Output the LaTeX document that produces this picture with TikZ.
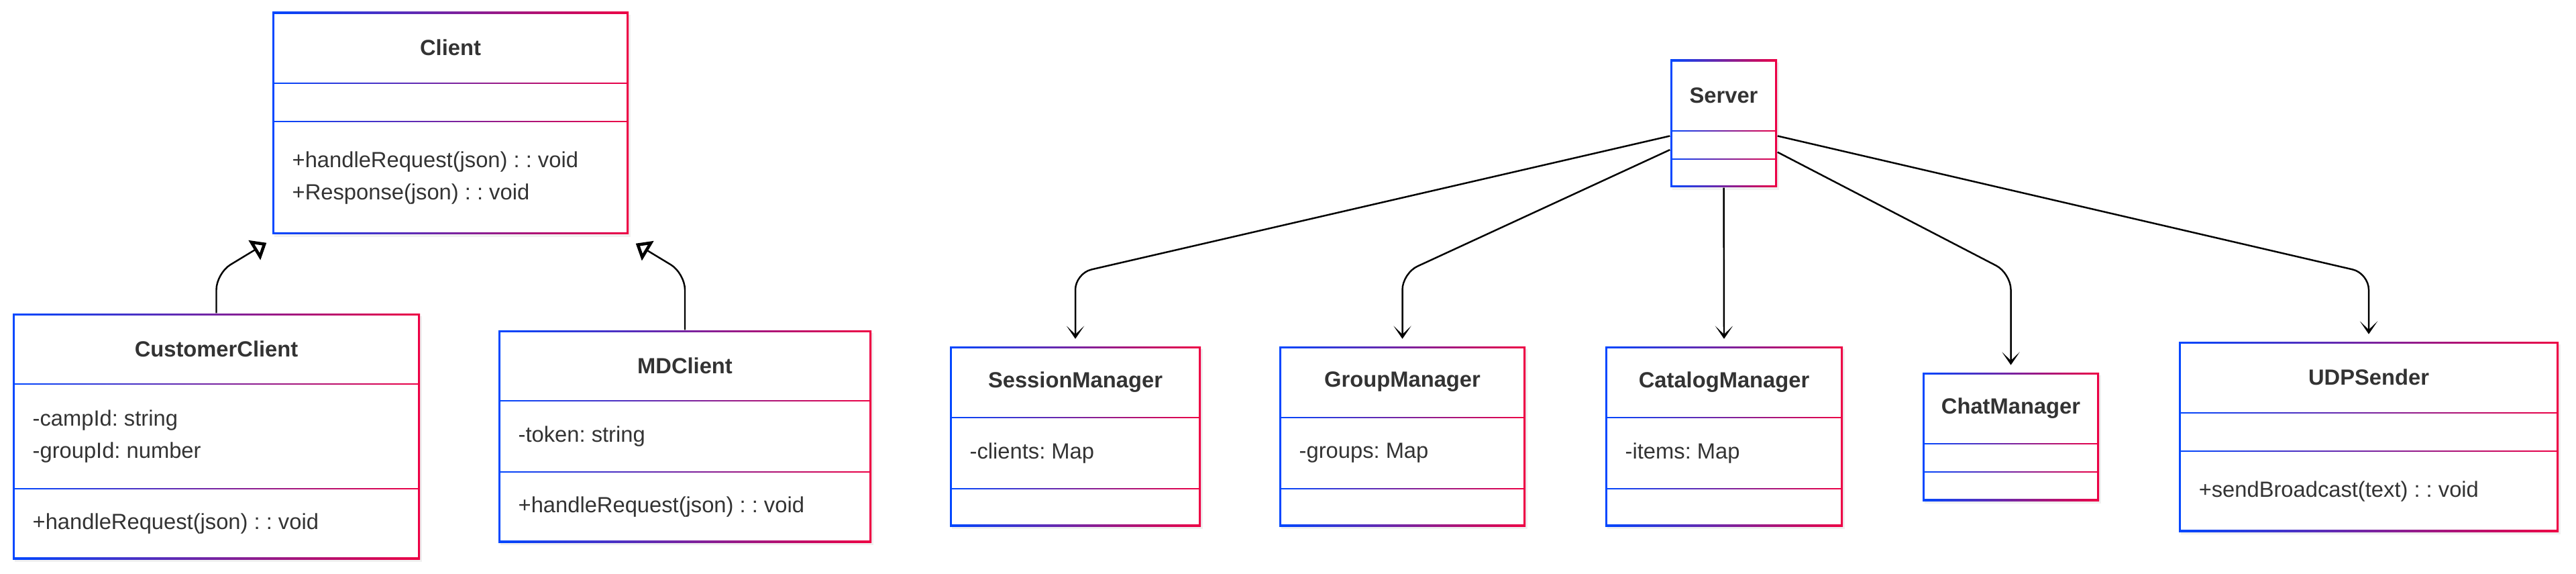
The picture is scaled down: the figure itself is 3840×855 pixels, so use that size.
\documentclass[tikz,border=0pt]{standalone}
\usepackage{fontspec}
\setmainfont{Liberation Sans}
\usetikzlibrary{arrows.meta,fit,shadows}
\definecolor{umlblue}{HTML}{0047FF}
\definecolor{umlred}{HTML}{EE0044}
\definecolor{umltext}{HTML}{333333}
\newcommand{\umlfont}{\fontsize{9.3}{13.8}\selectfont}
\frenchspacing

% box: name, x1, y1, x2, y2, first line, second line
\newcommand{\umlbox}[7]{%
  \shade[boxshade] (#2,#3) rectangle (#4,#5);
  \fill[white] ({#2+2.7},{#3+2.7}) rectangle ({#4-2.7},{#6-1.4});
  \fill[white] ({#2+2.7},{#6+1.4}) rectangle ({#4-2.7},{#7-1.4});
  \fill[white] ({#2+2.7},{#7+1.4}) rectangle ({#4-2.7},{#5-2.7});
  \node[fit={(#2,#3) (#4,#5)},inner sep=0pt] (#1) {};
  \coordinate (#1-t) at ({(#2+#4)/2},{(#3+#6)/2});
  \coordinate (#1-a) at ({#2+29},{(#6+#7)/2});
  \coordinate (#1-m) at ({#2+29},{(#7+#5)/2});
}

\begin{document}
\begin{tikzpicture}[x=0.01cm,y=-0.01cm,
    boxshade/.style={left color=umlblue,right color=umlred,
      drop shadow={shadow xshift=0.8pt,shadow yshift=-1pt,opacity=0.12}},
    title/.style={font=\umlfont\bfseries,text=umltext,inner sep=0pt},
    member/.style={font=\umlfont,text=umltext,anchor=west,align=left,inner sep=0pt},
    assoc/.style={line width=0.7pt,rounded corners=7pt,shorten >=3pt,
      -{Stealth[length=5.5pt,width=7.5pt,inset=3.6pt]}},
    inherit/.style={line width=0.7pt,rounded corners=7pt,
      -{Triangle[open,length=6pt,width=9.5pt,line width=1.3pt]}}]
  \useasboundingbox (0,0) rectangle (3840,855);
  \coordinate (bend) at (0,407);

  \umlbox{client}{406}{18}{937}{349}{124}{181}
  \umlbox{customer}{19}{467}{626}{833}{572}{728}
  \umlbox{mdclient}{743}{492}{1299}{808}{597}{703}
  \umlbox{server}{2490}{89}{2649}{279}{195}{237}
  \umlbox{session}{1416}{516}{1790}{784}{622}{728}
  \umlbox{group}{1907}{516}{2274}{784}{622}{728}
  \umlbox{catalog}{2393}{516}{2747}{784}{622}{728}
  \umlbox{chat}{2866}{555}{3129}{746}{661}{703}
  \umlbox{udp}{3248}{509}{3814}{792}{615}{672}

  \node[title] (client-name) at (client-t) {Client};
  \node[member] (client-ops) at (client-m) {+handleRequest(json) : : void\\+Response(json) : : void};
  \node[title] (customer-name) at (customer-t) {CustomerClient};
  \node[member] (customer-attr) at (customer-a) {-campId: string\\-groupId: number};
  \node[member] (customer-ops) at (customer-m) {+handleRequest(json) : : void};
  \node[title] (mdclient-name) at (mdclient-t) {MDClient};
  \node[member] (mdclient-attr) at (mdclient-a) {-token: string};
  \node[member] (mdclient-ops) at (mdclient-m) {+handleRequest(json) : : void};
  \node[title] (server-name) at (server-t) {Server};
  \node[title] (session-name) at (session-t) {SessionManager};
  \node[member] (session-attr) at (session-a) {-clients: Map};
  \node[title] (group-name) at (group-t) {GroupManager};
  \node[member] (group-attr) at (group-a) {-groups: Map};
  \node[title] (catalog-name) at (catalog-t) {CatalogManager};
  \node[member] (catalog-attr) at (catalog-a) {-items: Map};
  \node[title] (chat-name) at (chat-t) {ChatManager};
  \node[title] (udp-name) at (udp-t) {UDPSender};
  \node[member] (udp-ops) at (udp-m) {+sendBroadcast(text) : : void};

  \draw[inherit] (customer.north) -- (customer.north |- bend) -- ([shift={(-8,12)}]client.south west);
  \draw[inherit] (mdclient.north) -- (mdclient.north |- bend) -- ([shift={(10,13)}]client.south east);

  \foreach \a/\t in {193/session,206/group,332/chat,347/udp} {
    \draw[assoc] (server.\a) -- (\t.north |- bend) -- (\t.north);
  }
  \draw[assoc] (server.south) -- (catalog.north);
\end{tikzpicture}
\end{document}
